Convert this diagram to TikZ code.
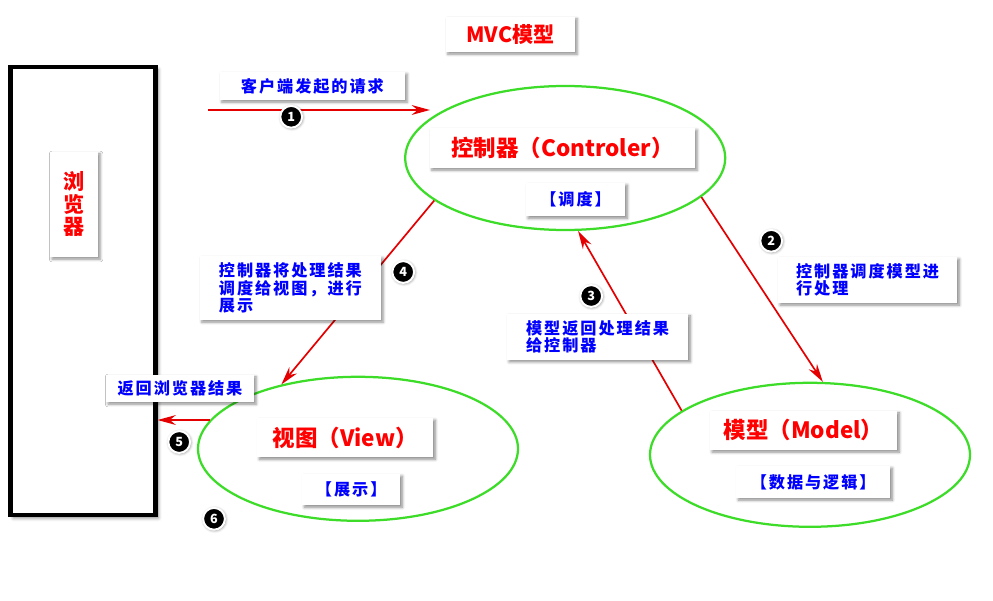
\documentclass[tikz,border=0pt]{standalone}
\usepackage{fontspec}
\setmainfont{Noto Sans CJK SC}
\usepackage{xcolor}
\definecolor{ell-green}{RGB}{60,220,40}
\definecolor{arr-red}{RGB}{228,0,0}
\usetikzlibrary{shapes.geometric,shadows.blur,arrows.meta}

\begin{document}
\begin{tikzpicture}[>={Stealth[length=13pt,width=7pt]},
	tagbox/.style={fill=white,inner sep=2pt,
		blur shadow={shadow xshift=1.5pt,shadow yshift=-1.5pt,shadow blur radius=2pt,
			shadow opacity=45}},
	redtag/.style={tagbox,text=red,font=\bfseries\fontsize{16}{18}\selectfont},
	bluetag/.style={tagbox,text=blue,align=left,
		font=\bfseries\fontsize{11.5}{12.5}\selectfont\addfontfeature{LetterSpace=12}},
	oval/.style={ellipse,draw=ell-green,line width=1.6pt,
		minimum width=8cm,minimum height=3.6cm},
	numdot/.style={circle,fill=black,draw=white,line width=1.4pt,text=white,
		inner sep=0pt,minimum size=15.5pt,font=\bfseries\small,
		blur shadow={shadow xshift=.5pt,shadow yshift=-.5pt,shadow blur radius=2pt,
			shadow opacity=50}},
	flow/.style={->,arr-red,line width=1.2pt}]
	\useasboundingbox (0,0) rectangle (24.825,15);

	% title
	\node[redtag,minimum width=3.23cm,minimum height=.88cm,
		font=\bfseries\fontsize{15}{17}\selectfont] (title) at (12.76,14.14) {MVC模型};

	% browser
	\node[draw,fill=white,line width=3pt,minimum width=3.62cm,minimum height=11.2cm,
		blur shadow={shadow xshift=2pt,shadow yshift=-2pt,shadow blur radius=2.5pt,
			shadow opacity=50}]
		(browser) at (2.075,7.725) {};
	\node[redtag,align=center,minimum width=1.2cm,minimum height=2.63cm,
		font=\bfseries\fontsize{15}{16}\selectfont] (browsertxt) at (1.85,9.89) {浏\\览\\器};

	% the three parts
	\node[oval] (ctrl) at (14.13,11.05) {};
	\node[oval] (model) at (20.25,3.63) {};
	\node[oval] (view) at (8.95,3.78) {};

	\node[redtag,minimum width=6.63cm,minimum height=1cm] (ctrltxt) at (14.06,11.3)
		{控制器（Controler）};
	\node[bluetag,minimum width=2.48cm,minimum height=.83cm] (ctrlsub) at (14.39,10.01)
		{【调度】};
	\node[redtag,minimum width=4.68cm,minimum height=.98cm] (modeltxt) at (20.09,4.24)
		{模型（Model）};
	\node[bluetag,minimum width=3.85cm,minimum height=.8cm] (modelsub) at (20.33,2.95)
		{【数据与逻辑】};
	\node[redtag,minimum width=4.4cm,minimum height=.98cm] (viewtxt) at (8.63,4.06)
		{视图（View）};
	\node[bluetag,minimum width=2.45cm,minimum height=.78cm] (viewsub) at (8.78,2.76)
		{【展示】};

	% arrows
	\coordinate (reqstart) at (5.2,12.25);
	\coordinate (reqend) at (10.75,12.25);
	\draw[flow] (reqstart) -- (reqend);
	\draw[flow] (ctrl.-16) -- (model.80);
	\draw[flow] (model.161) -- (ctrl.-80);
	\draw[flow] (ctrl.198) -- (view.140);
	\draw[flow] (view.169) -- (view.169 -| browser.east);

	% step texts
	\node[bluetag,minimum width=4.63cm,minimum height=.7cm] (reqtxt) at (7.81,12.85)
		{客户端发起的请求};
	\node[bluetag,minimum width=4.48cm,minimum height=1.15cm] (steptwo) at (21.69,8)
		{控制器调度模型进\\行处理};
	\node[bluetag,minimum width=4.53cm,minimum height=1.15cm] (stepthree) at (14.94,6.58)
		{模型返回处理结果\\给控制器};
	\node[bluetag,minimum width=4.53cm,minimum height=1.6cm] (stepfour) at (7.26,7.8)
		{控制器将处理结果\\调度给视图，进行\\展示};
	\node[bluetag,minimum width=3.7cm,minimum height=.68cm] (stepfive) at (4.5,5.29)
		{返回浏览器结果};

	% numbers
	\node[numdot] (n1) at (7.28,12.08) {1};
	\node[numdot] (n2) at (19.28,8.98) {2};
	\node[numdot] (n3) at (14.78,7.6) {3};
	\node[numdot] (n4) at (10.08,8.2) {4};
	\node[numdot] (n5) at (4.48,3.95) {5};
	\node[numdot] (n6) at (5.35,2.03) {6};
\end{tikzpicture}
\end{document}
